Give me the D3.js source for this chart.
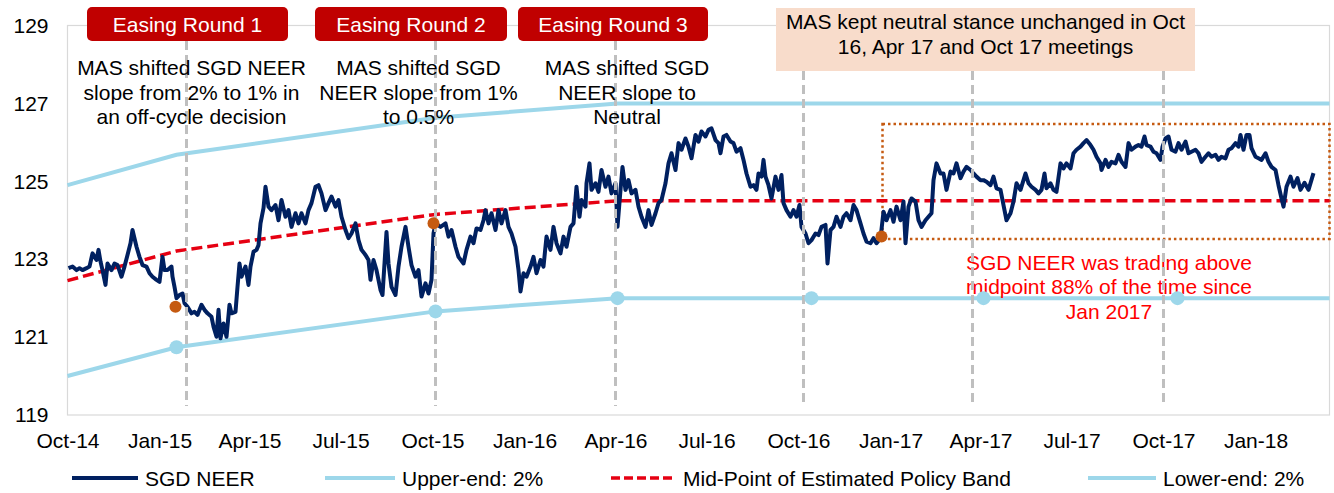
<!DOCTYPE html>
<html><head><meta charset="utf-8">
<script src="https://cdn.jsdelivr.net/npm/d3@7"></script>
<style>
body{margin:0;background:#fff}
svg{display:block}
text{font-family:"Liberation Sans",Arial,sans-serif}
</style>
</head><body>
<svg id="chart" width="1334" height="493"></svg>
<script>
// ---------- DATA ----------
const startDate = new Date(2014, 9, 1);           // day 0 = 1 Oct 2014
const endDay = 1262;                               // ~16 Mar 2018 (axis end)
// SGD NEER: [days since 1 Oct 2014, index value]
const neer = [
[1,122.77],[5,122.81],[9,122.72],[12,122.77],[15,122.72],[19,122.77],[22,122.81],[25,123.15],[29,122.98],[31,123.24],
[33,122.94],[35,122.72],[38,122.34],[40,122.89],[44,122.72],[47,122.89],[50,122.85],[54,122.55],[57,122.81],[60,123.11],
[63,123.41],[65,123.75],[69,123.32],[72,123.06],[75,122.85],[79,122.81],[82,122.64],[85,122.55],[89,122.47],[92,122.42],
[95,123.06],[97,122.72],[100,122.72],[104,122.81],[105,122.55],[107,122.29],[109,122.00],[112,122.08],[115,122.12],[117,121.87],
[120,121.78],[124,121.61],[127,121.65],[130,121.57],[134,121.83],[137,121.70],[140,121.61],[144,121.52],[146,121.27],[149,121.01],
[151,121.70],[153,120.97],[156,121.35],[159,121.01],[162,121.83],[164,121.61],[168,121.65],[170,122.29],[172,122.89],[174,122.55],
[178,122.81],[181,122.34],[183,122.81],[186,123.19],[189,123.24],[191,123.36],[193,123.92],[196,124.31],[198,124.86],[201,124.35],
[204,124.26],[208,124.39],[211,124.00],[214,124.52],[218,124.09],[221,124.26],[224,123.83],[228,124.18],[231,123.92],[234,124.18],
[238,123.92],[241,124.26],[244,124.44],[248,124.86],[251,124.90],[254,124.69],[258,124.26],[261,124.44],[264,124.61],[268,124.35],
[271,124.52],[274,124.09],[278,123.75],[281,123.54],[284,123.66],[288,123.92],[291,123.49],[294,123.24],[298,123.11],[301,122.98],
[303,122.47],[306,122.98],[309,122.72],[313,122.21],[315,122.08],[319,123.70],[321,122.89],[324,122.29],[328,122.08],[331,122.81],
[334,123.32],[338,123.83],[341,123.32],[344,122.85],[348,122.55],[351,122.72],[354,122.04],[358,122.38],[361,122.12],[364,122.47],
[366,123.66],[368,123.92],[373,123.83],[378,123.92],[381,123.58],[384,123.75],[388,123.32],[391,123.06],[396,122.89],[399,123.24],
[403,123.58],[406,123.41],[409,123.79],[413,123.75],[416,124.00],[418,124.26],[421,123.92],[424,124.18],[428,123.75],[431,124.26],
[434,123.92],[438,124.26],[441,123.83],[444,123.66],[448,123.32],[451,122.72],[453,122.17],[456,122.64],[459,122.55],[463,122.81],
[466,123.06],[469,122.64],[473,122.98],[476,122.81],[479,123.58],[483,123.24],[486,123.83],[489,123.41],[493,123.15],[496,123.58],
[499,123.32],[503,123.83],[506,123.92],[509,124.86],[512,124.09],[514,124.52],[518,124.35],[519,124.95],[522,125.46],[524,124.78],
[528,124.95],[531,124.73],[534,125.29],[538,124.86],[541,125.12],[544,124.69],[548,124.95],[550,123.83],[553,124.78],[555,125.37],
[558,124.78],[561,125.03],[564,124.69],[568,124.78],[571,124.35],[574,124.09],[578,123.83],[581,124.26],[584,123.88],[588,124.18],
[591,124.44],[594,124.52],[598,124.95],[601,125.46],[604,125.72],[608,125.29],[611,125.98],[614,125.81],[618,126.10],[621,125.89],
[624,125.59],[628,126.19],[631,126.02],[634,126.28],[638,126.15],[641,126.32],[644,126.36],[648,126.06],[651,125.98],[653,125.72],
[656,126.15],[659,126.19],[663,126.02],[666,125.98],[669,125.76],[673,125.85],[676,125.55],[679,125.20],[683,124.86],[686,124.90],
[689,124.78],[691,125.20],[694,125.12],[696,125.55],[698,125.12],[701,124.90],[704,124.56],[708,125.12],[711,124.78],[714,125.16],
[716,124.44],[719,124.26],[723,124.09],[726,124.26],[729,124.09],[732,124.39],[734,123.83],[738,123.66],[741,123.41],[744,123.49],
[748,123.66],[751,123.62],[754,123.83],[758,123.88],[760,122.89],[763,123.75],[766,123.83],[769,124.09],[773,123.83],[776,124.09],
[779,124.18],[783,124.00],[786,124.39],[789,124.26],[793,123.92],[796,123.66],[799,123.45],[803,123.41],[806,123.54],[809,123.41],
[813,123.54],[816,124.22],[819,124.00],[823,124.26],[826,123.96],[829,124.35],[833,124.00],[836,124.48],[838,123.41],[841,124.35],
[844,124.56],[848,124.48],[851,124.00],[854,123.83],[858,124.00],[861,124.09],[864,124.18],[866,125.03],[869,125.46],[873,125.20],
[876,125.20],[879,124.78],[883,125.25],[886,125.20],[889,125.46],[893,125.08],[896,125.25],[899,125.37],[903,125.29],[906,125.20],
[909,125.12],[913,125.03],[916,125.03],[919,124.99],[923,124.90],[926,125.12],[929,124.82],[933,124.78],[936,124.39],[939,124.00],
[943,124.18],[946,124.48],[949,124.95],[953,124.78],[956,125.03],[958,125.20],[961,124.95],[964,124.86],[968,124.78],[971,124.69],
[974,124.78],[977,125.20],[979,124.82],[983,124.95],[986,124.78],[989,124.73],[993,125.46],[996,125.33],[999,125.46],[1003,125.33],
[1006,125.72],[1009,125.81],[1013,125.89],[1016,125.98],[1019,126.06],[1023,125.93],[1026,125.81],[1029,125.63],[1033,125.46],[1034,125.29],
[1038,125.55],[1041,125.37],[1044,125.50],[1048,125.46],[1051,125.68],[1054,125.50],[1058,125.37],[1061,125.98],[1064,125.81],[1068,125.89],
[1071,125.93],[1074,125.89],[1077,126.15],[1079,125.93],[1083,125.89],[1086,125.76],[1089,125.72],[1093,125.55],[1095,125.89],[1098,126.10],
[1101,126.15],[1104,125.81],[1108,125.76],[1111,125.98],[1114,125.81],[1118,126.02],[1121,125.72],[1124,125.76],[1128,125.81],[1131,125.72],
[1134,125.50],[1138,125.63],[1141,125.72],[1144,125.63],[1148,125.68],[1151,125.55],[1154,125.63],[1158,125.59],[1161,125.81],[1164,125.85],
[1168,125.98],[1171,125.89],[1173,126.19],[1176,125.81],[1179,126.19],[1182,126.19],[1184,125.85],[1188,125.63],[1191,125.59],[1194,125.55],
[1198,125.72],[1201,125.50],[1204,125.37],[1208,125.29],[1211,124.90],[1214,124.56],[1216,124.35],[1219,124.86],[1223,125.12],[1226,124.86],
[1230,125.08],[1233,124.78],[1237,124.96],[1241,124.78],[1246,125.21]
];
// Estimated policy band
const bandDays  = [0, 109, 368, 550, 744, 916, 1110, 1262];
const upperEnd  = [124.90, 125.68, 126.63, 127.00, 127.00, 127.00, 127.00, 127.00];
const lowerEnd  = [120.00, 120.74, 121.66, 122.00, 122.00, 122.00, 122.00, 122.00];
const midPoint  = [122.45, 123.21, 124.15, 124.50, 124.50, 124.50, 124.50, 124.50];
const lowerMarkerIdx = [1, 2, 3, 4, 5, 6];
// MAS decision points on the NEER
const decisionDays   = [108, 366, 814];
const decisionValues = [121.78, 123.92, 123.58];
// policy-meeting reference lines (days since 1 Oct 2014)
const meetingDays = [119, 368, 548, 736, 905, 1096];
// Jan 2017 onward highlight box
const highlightDays   = [815, 1262];
const highlightValues = [123.52, 126.47];
// axes
const yTicks = [119, 121, 123, 125, 127, 129];
const xTickLabels = ["Oct-14","Jan-15","Apr-15","Jul-15","Oct-15","Jan-16","Apr-16","Jul-16","Oct-16","Jan-17","Apr-17","Jul-17","Oct-17","Jan-18"];
const xTickDates  = ["2014-10-01","2015-01-01","2015-04-01","2015-07-01","2015-10-01","2016-01-01","2016-04-01","2016-07-01","2016-10-01","2017-01-01","2017-04-01","2017-07-01","2017-10-01","2018-01-01"];
// annotations
const easingLabels = ["Easing Round 1", "Easing Round 2", "Easing Round 3"];
const noteBlocks = [
  ["MAS shifted SGD NEER", "slope from 2% to 1% in", "an off-cycle decision"],
  ["MAS shifted SGD", "NEER slope from 1%", "to 0.5%"],
  ["MAS shifted SGD", "NEER slope to", "Neutral"]
];
const neutralNote = ["MAS kept neutral stance unchanged in Oct", "16, Apr 17 and Oct 17 meetings"];
const redNote = ["SGD NEER was trading above", "midpoint 88% of the time since", "Jan 2017"];
const legendLabels = ["SGD NEER", "Upper-end: 2%", "Mid-Point of Estimated Policy Band", "Lower-end: 2%"];

// ---------- STYLE ----------
const C = {navy:"#002060", band:"#9DD7EA", red:"#E60012", grey:"#BFBFBF", orange:"#C55A11",
           box:"#C00000", peach:"#F8DCCB", axis:"#D9D9D9", txt:"#000"};
const FS = 21;

// ---------- SCALES ----------
const dayDate = d => d3.timeDay.offset(startDate, d);
const parse = d3.timeParse("%Y-%m-%d");
const x = d3.scaleTime().domain([startDate, dayDate(endDay)]).range([67.5, 1329.5]);
const y = d3.scaleLinear().domain([119, 129]).range([415, 25.5]);
const X = d => x(dayDate(d));

const svg = d3.select("#chart");

// plot border
svg.append("rect").attr("x", 67.5).attr("y", 25.5).attr("width", 1262).attr("height", 389.5)
  .attr("fill", "none").attr("stroke", C.axis).attr("stroke-width", 1.2);

// axes
const yAxis = svg.append("g").attr("transform", "translate(67.5,0)")
  .call(d3.axisLeft(y).tickValues(yTicks).tickSize(0).tickPadding(19).tickFormat(d3.format("d")));
yAxis.select(".domain").remove();
yAxis.selectAll("text").attr("font-size", FS).attr("fill", C.txt).attr("font-family", "Liberation Sans, Arial, sans-serif");

const xAxis = svg.append("g").attr("transform", "translate(0,415)")
  .call(d3.axisBottom(x).tickValues(xTickDates.map(parse)).tickSize(0).tickPadding(18)
    .tickFormat((d, i) => xTickLabels[i]));
xAxis.select(".domain").remove();
xAxis.selectAll("text").attr("font-size", FS).attr("fill", C.txt).attr("font-family", "Liberation Sans, Arial, sans-serif");

// highlight box (dotted)
svg.append("rect")
  .attr("x", X(highlightDays[0])).attr("y", y(highlightValues[1]))
  .attr("width", X(highlightDays[1]) - X(highlightDays[0]))
  .attr("height", y(highlightValues[0]) - y(highlightValues[1]))
  .attr("fill", "none").attr("stroke", C.orange).attr("stroke-width", 2.5).attr("stroke-dasharray", "2.5,3");

// band lines
const bandLine = vals => d3.line().x((d, i) => X(bandDays[i])).y((d, i) => y(vals[i]))(vals);
svg.append("path").attr("d", bandLine(upperEnd)).attr("fill", "none").attr("stroke", C.band).attr("stroke-width", 4);
svg.append("path").attr("d", bandLine(lowerEnd)).attr("fill", "none").attr("stroke", C.band).attr("stroke-width", 4);
svg.append("path").attr("d", bandLine(midPoint)).attr("fill", "none").attr("stroke", C.red).attr("stroke-width", 3.5)
  .attr("stroke-dasharray", "11,5");

// NEER line
svg.append("path")
  .attr("d", d3.line().x(d => X(d[0])).y(d => y(d[1]))(neer))
  .attr("fill", "none").attr("stroke", C.navy).attr("stroke-width", 4).attr("stroke-linejoin", "round");

// red note
svg.append("g").selectAll("text").data(redNote).join("text")
  .attr("x", 1109).attr("y", (d, i) => 269.5 + i * 24.5).attr("text-anchor", "middle")
  .attr("font-size", FS).attr("fill", "#FF0000").text(d => d);

// meeting reference lines
const lineTop = [41, 41, 41, 71, 71, 71];
svg.append("g").selectAll("line").data(meetingDays).join("line")
  .attr("x1", d => X(d)).attr("x2", d => X(d))
  .attr("y1", (d, i) => lineTop[i]).attr("y2", 406)
  .attr("stroke", C.grey).attr("stroke-width", 3).attr("stroke-dasharray", "9,5");

// lower band markers
svg.append("g").selectAll("circle").data(lowerMarkerIdx).join("circle")
  .attr("cx", i => X(bandDays[i])).attr("cy", i => y(lowerEnd[i])).attr("r", 7).attr("fill", C.band);

// decision points
svg.append("g").selectAll("circle").data(decisionDays).join("circle")
  .attr("cx", d => X(d)).attr("cy", (d, i) => y(decisionValues[i])).attr("r", 6).attr("fill", C.orange);

// easing boxes
const easingBoxes = [[87, 288], [315, 507], [518, 708]];
const eb = svg.append("g");
easingBoxes.forEach((b, i) => {
  eb.append("rect").attr("x", b[0]).attr("y", 7).attr("width", b[1] - b[0]).attr("height", 34)
    .attr("rx", 5).attr("fill", C.box);
  eb.append("text").attr("x", (b[0] + b[1]) / 2).attr("y", 32).attr("text-anchor", "middle")
    .attr("font-size", FS).attr("fill", "#fff").text(easingLabels[i]);
});

// black note blocks
const noteCenters = [191.5, 418.5, 627];
noteBlocks.forEach((lines, k) => {
  svg.append("g").selectAll("text").data(lines).join("text")
    .attr("x", noteCenters[k]).attr("y", (d, i) => 75 + i * 24.5).attr("text-anchor", "middle")
    .attr("font-size", FS).attr("fill", C.txt).text(d => d);
});

// neutral stance box
svg.append("rect").attr("x", 776).attr("y", 8).attr("width", 419).attr("height", 63).attr("fill", C.peach);
svg.append("g").selectAll("text").data(neutralNote).join("text")
  .attr("x", 985.5).attr("y", (d, i) => 29 + i * 24.5).attr("text-anchor", "middle")
  .attr("font-size", FS).attr("fill", C.txt).text(d => d);

// legend
const legendItems = [
  {x0: 72, x1: 138, tx: 145, color: C.navy, dash: null, w: 4},
  {x0: 325, x1: 395, tx: 402, color: C.band, dash: null, w: 4},
  {x0: 611, x1: 672, tx: 683, color: C.red, dash: "9,4", w: 3.5},
  {x0: 1088, x1: 1156, tx: 1163, color: C.band, dash: null, w: 4}
];
const lg = svg.append("g");
legendItems.forEach((it, i) => {
  lg.append("line").attr("x1", it.x0).attr("x2", it.x1).attr("y1", 478).attr("y2", 478)
    .attr("stroke", it.color).attr("stroke-width", it.w).attr("stroke-dasharray", it.dash);
  lg.append("text").attr("x", it.tx).attr("y", 485.5).attr("font-size", FS).attr("fill", C.txt).text(legendLabels[i]);
});
</script>
</body></html>
